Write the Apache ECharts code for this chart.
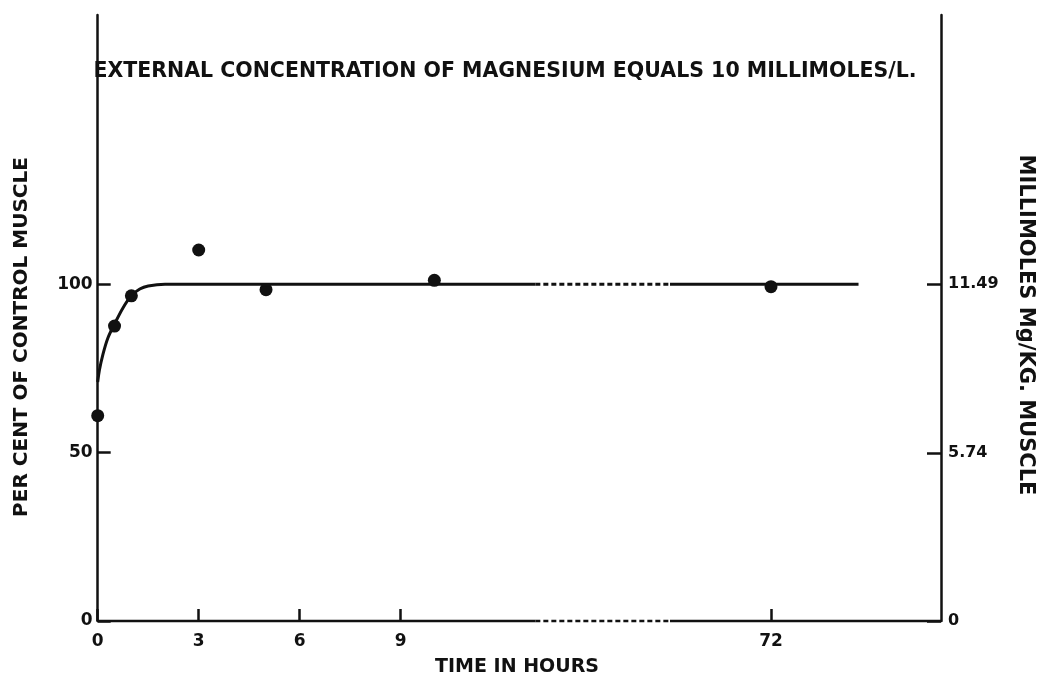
<!DOCTYPE html>
<html><head><meta charset="utf-8">
<script src="https://cdn.jsdelivr.net/npm/echarts@6/dist/echarts.min.js"></script>
<style>html,body{margin:0;padding:0;background:#fff}#c{width:1043px;height:686px}</style>
</head><body><div id="c"></div>
<script>
// ---- data ----
const timeHours = [0, 0.5, 1, 3, 5, 10, 72];
const percentValues = [61, 87.6, 96.6, 110.2, 98.4, 101.2, 99.3];
const curveHours = [0, 0.05, 0.15, 0.3, 0.5, 0.75, 1, 1.25, 1.5, 2, 3, 6, 9, 13, 40, 69, 72, 74.6];
const curveValues = [71, 74.5, 79, 84, 88.2, 93, 96.6, 98.6, 99.5, 100, 100, 100, 100, 100, 100, 100, 100, 100];
const xTickHours = [0, 3, 6, 9, 72];
const xTickLabels = ['0', '3', '6', '9', '72'];
const leftTicks = [0, 50, 100];
const rightTicks = [0, 5.74, 11.49];
const rightTickLabels = ['0', '5.74', '11.49'];
const mmolPer100Percent = 11.49;
const breakStartHours = 13, breakEndHours = 69, axisEndHours = 77.05;
const titleText = 'EXTERNAL CONCENTRATION OF MAGNESIUM EQUALS 10 MILLIMOLES/L.';
const xName = 'TIME IN HOURS';
const yLeftName = 'PER CENT OF CONTROL MUSCLE';
const yRightName = 'MILLIMOLES Mg/KG. MUSCLE';

// broken time scale: linear to 13 h, compressed break, linear again after 69 h
const breakWidth = 4;
function pos(t) {
  if (t <= breakStartHours) return t;
  if (t < breakEndHours) return breakStartHours + (t - breakStartHours) / (breakEndHours - breakStartHours) * breakWidth;
  return breakStartHours + breakWidth + (t - breakEndHours);
}
const xTickPos = xTickHours.map(pos);
const yMax = 180;

function seg(lo, hi) {
  const out = [];
  curveHours.forEach((h, i) => { if (h >= lo && h <= hi) out.push([pos(h), curveValues[i]]); });
  return out;
}
const font = 'DejaVu Sans';
const black = '#111';

const chart = echarts.init(document.getElementById('c'));
chart.setOption({
  animation: false,
  backgroundColor: '#fff',
  grid: { left: 97.7, right: 102, top: 15, bottom: 65 },
  xAxis: {
    type: 'value', min: 0, max: pos(axisEndHours),
    axisLine: { show: false },
    splitLine: { show: false },
    axisTick: { show: true, inside: true, length: 12, customValues: xTickPos, lineStyle: { color: black, width: 2.5 } },
    axisLabel: {
      customValues: xTickPos, margin: 12, color: black, fontFamily: font, fontWeight: 'bold', fontSize: 17,
      formatter: v => { const i = xTickPos.findIndex(p => Math.abs(p - v) < 1e-6); return i >= 0 ? xTickLabels[i] : ''; }
    }
  },
  yAxis: [{
    type: 'value', min: 0, max: yMax, position: 'left',
    axisLine: { show: true, lineStyle: { color: black, width: 2.5 } },
    splitLine: { show: false },
    axisTick: { show: true, inside: true, length: 13, customValues: leftTicks, lineStyle: { color: black, width: 2.5 } },
    axisLabel: { customValues: leftTicks, margin: 5, color: black, fontFamily: font, fontWeight: 'bold', fontSize: 17 }
  }, {
    type: 'value', min: 0, max: yMax * mmolPer100Percent / 100, position: 'right',
    axisLine: { show: true, lineStyle: { color: black, width: 2.5 } },
    splitLine: { show: false },
    axisTick: { show: true, inside: true, length: 14, customValues: rightTicks, lineStyle: { color: black, width: 2.5 } },
    axisLabel: {
      customValues: rightTicks, margin: 7, color: black, fontFamily: font, fontWeight: 'bold', fontSize: 16,
      formatter: v => { const i = rightTicks.findIndex(p => Math.abs(p - v) < 1e-6); return i >= 0 ? rightTickLabels[i] : ''; }
    }
  }],
  series: [
    // x axis line with break
    { type: 'line', clip: false, symbol: 'none', silent: true, z: 1,
      data: [[pos(0), 0], [pos(breakStartHours), 0]], lineStyle: { color: black, width: 2.5 } },
    { type: 'line', clip: false, symbol: 'none', silent: true, z: 1,
      data: [[pos(breakStartHours), 0], [pos(breakEndHours), 0]], lineStyle: { color: black, width: 2.5, type: [5, 3] } },
    { type: 'line', clip: false, symbol: 'none', silent: true, z: 1,
      data: [[pos(breakEndHours), 0], [pos(axisEndHours), 0]], lineStyle: { color: black, width: 2.5 } },
    // fitted curve
    { type: 'line', smooth: 0.35, symbol: 'none', clip: false, z: 2,
      data: seg(0, breakStartHours), lineStyle: { color: black, width: 3 } },
    { type: 'line', symbol: 'none', clip: false, z: 2,
      data: seg(breakStartHours, breakEndHours), lineStyle: { color: black, width: 3, type: [5, 3] } },
    { type: 'line', symbol: 'none', clip: false, z: 2,
      data: seg(breakEndHours, 1000), lineStyle: { color: black, width: 3 } },
    // measured points
    { type: 'scatter', symbol: 'circle', symbolSize: 13, clip: false, z: 3,
      data: timeHours.map((h, i) => [pos(h), percentValues[i]]), itemStyle: { color: black, opacity: 1 } }
  ],
  graphic: [
    { type: 'text', x: 505, y: 72, style: { text: titleText, fill: black, font: 'bold 20.5px ' + font, textAlign: 'center', textVerticalAlign: 'middle' } },
    { type: 'text', x: 517, y: 667, style: { text: xName, fill: black, font: 'bold 19px ' + font, textAlign: 'center', textVerticalAlign: 'middle' } },
    { type: 'text', x: 22, y: 337, rotation: Math.PI / 2, style: { text: yLeftName, fill: black, font: 'bold 20px ' + font, textAlign: 'center', textVerticalAlign: 'middle' } },
    { type: 'text', x: 1025, y: 325, rotation: -Math.PI / 2, style: { text: yRightName, fill: black, font: 'bold 21px ' + font, textAlign: 'center', textVerticalAlign: 'middle' } }
  ]
});
</script></body></html>
